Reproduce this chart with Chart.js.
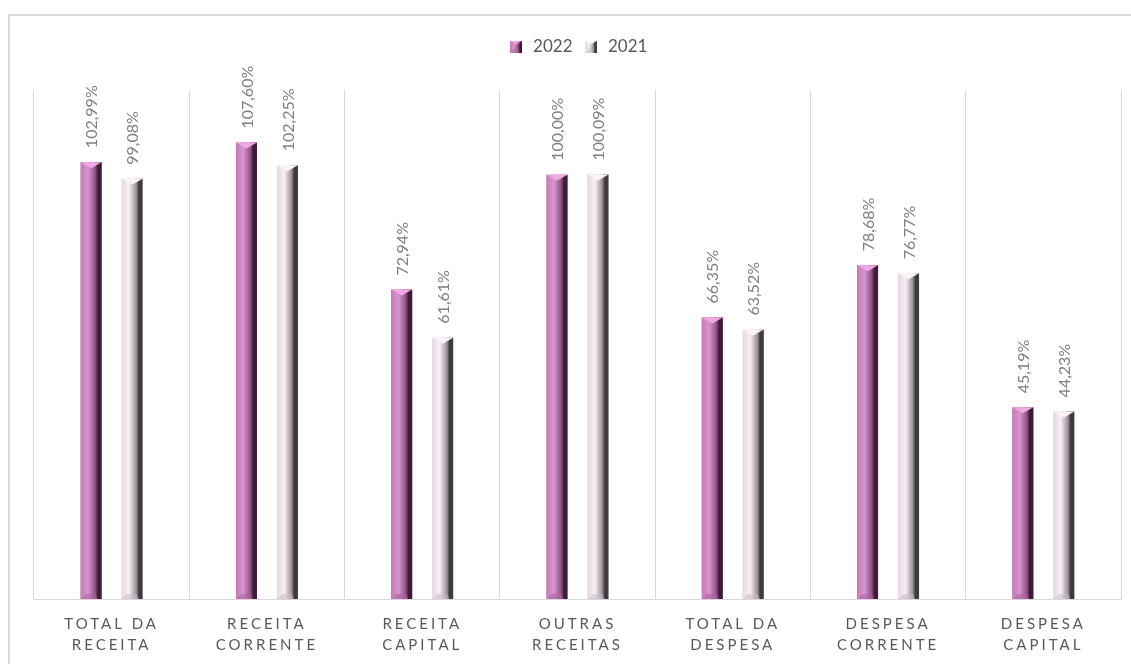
<!DOCTYPE html>
<html lang="pt">
<head>
<meta charset="utf-8">
<title>Execução orçamental 2022 / 2021</title>
<script src="https://cdn.jsdelivr.net/npm/chart.js@4.4.1/dist/chart.umd.min.js"></script>
<style>
  html, body { margin: 0; padding: 0; background: #fff; overflow: hidden; }
  #frame {
    position: absolute; left: 8px; top: 14px;
    width: 1200px; height: 700px;
    border: 2px solid #d9d9d9;
  }
  #wrap { position: absolute; left: 0; top: 0; width: 1131px; height: 664px; }
</style>
</head>
<body>
<div id="frame"></div>
<div id="wrap"><canvas id="chart" width="1131" height="664"></canvas></div>
<script>
// Categories (two-line labels) and execution rates in %
const categories = [
  ['TOTAL DA', 'RECEITA'],
  ['RECEITA', 'CORRENTE'],
  ['RECEITA', 'CAPITAL'],
  ['OUTRAS', 'RECEITAS'],
  ['TOTAL DA', 'DESPESA'],
  ['DESPESA', 'CORRENTE'],
  ['DESPESA', 'CAPITAL']
];
const values2022 = [102.99, 107.60, 72.94, 100.00, 66.35, 78.68, 45.19];
const values2021 = [99.08, 102.25, 61.61, 100.09, 63.52, 76.77, 44.23];

// Shading for the prism-style columns
const PALETTE = {
  '2022': { left: '#c47cb6', mid: '#d995cd', right: '#8f4f85', edge: '#3c1c37', cap: '#efa8e4', foot: '#a8609c' },
  '2021': { left: '#e6d6e2', mid: '#f7f0f5', right: '#9a9098', edge: '#3f3a3e', cap: '#fbf3f9', foot: '#c9bcc6' }
};

function bodyGradient(ctx, left, right, p) {
  const g = ctx.createLinearGradient(left, 0, right, 0);
  g.addColorStop(0, p.left);
  g.addColorStop(0.35, p.mid);
  g.addColorStop(0.7, p.right);
  g.addColorStop(0.82, p.edge);
  g.addColorStop(1, p.edge);
  return g;
}

// Paint one column: body, pointed top facet, bottom bevel
function drawPrism(ctx, x, top, bottom, w, p) {
  const l = x - w / 2, r = x + w / 2;
  const cap = Math.min(6, (bottom - top) / 3);
  ctx.fillStyle = bodyGradient(ctx, l, r, p);
  ctx.fillRect(l, top, w, bottom - top);
  ctx.beginPath();
  ctx.moveTo(l, top);
  ctx.lineTo(r, top);
  ctx.lineTo(x, top + cap);
  ctx.closePath();
  ctx.fillStyle = p.cap;
  ctx.fill();
  ctx.beginPath();
  ctx.moveTo(l + 1, bottom);
  ctx.lineTo(r - 4, bottom);
  ctx.lineTo(r - 6, bottom - 5);
  ctx.lineTo(l + 5, bottom - 5);
  ctx.closePath();
  ctx.globalAlpha = 0.55;
  ctx.fillStyle = p.foot;
  ctx.fill();
  ctx.globalAlpha = 1;
}

// Small legend icons in the same style
function makeIcon(p) {
  const c = document.createElement('canvas');
  c.width = 12; c.height = 12;
  const cx = c.getContext('2d');
  drawPrism(cx, 6, 0, 12, 12, p);
  return c;
}
const icons = [makeIcon(PALETTE['2022']), makeIcon(PALETTE['2021'])];

const prismBars = {
  id: 'prismBars',
  beforeInit(chart) {
    // leave some room between the legend and the plot
    const fit = chart.legend.fit;
    chart.legend.fit = function () {
      fit.call(chart.legend);
      this.height += 25;
    };
  },
  afterDatasetsDraw(chart) {
    const ctx = chart.ctx;
    ctx.save();
    chart.data.datasets.forEach((ds, i) => {
      const meta = chart.getDatasetMeta(i);
      const p = PALETTE[ds.label];
      meta.data.forEach((bar, j) => {
        const { x, y, width, base } = bar.getProps(['x', 'y', 'width', 'base'], true);
        drawPrism(ctx, x, y, base, width, p);

        // rotated value label above the column
        const txt = ds.data[j].toFixed(2).replace('.', ',') + '%';
        ctx.save();
        ctx.translate(x + 1, y - 14);
        ctx.rotate(-Math.PI / 2);
        ctx.font = '16px Lato, sans-serif';
        ctx.fillStyle = '#7f7f7f';
        ctx.textAlign = 'left';
        ctx.textBaseline = 'middle';
        ctx.fillText(txt, 0, 0);
        ctx.restore();
      });
    });
    ctx.restore();
    // category labels (drawn in the next layer) are letter-spaced
    ctx.letterSpacing = '3px';
  },
  afterDraw(chart) {
    chart.ctx.letterSpacing = '0px';
  }
};

new Chart(document.getElementById('chart'), {
  type: 'bar',
  data: {
    labels: categories,
    datasets: [
      { label: '2022', data: values2022, backgroundColor: '#b56aa5' },
      { label: '2021', data: values2021, backgroundColor: '#e8dce5' }
    ]
  },
  plugins: [prismBars],
  options: {
    responsive: false,
    animation: false,
    devicePixelRatio: 1,
    layout: { padding: { left: 34, right: 10, top: 28, bottom: 0 } },
    datasets: {
      bar: { categoryPercentage: 0.528, barPercentage: 0.512 }
    },
    plugins: {
      tooltip: { enabled: false },
      legend: {
        position: 'top',
        labels: {
          usePointStyle: true,
          padding: 10,
          color: '#595959',
          font: { family: 'Lato, sans-serif', size: 17 },
          generateLabels: (chart) => chart.data.datasets.map((ds, i) => ({
            text: ds.label,
            pointStyle: icons[i],
            fillStyle: ds.backgroundColor,
            strokeStyle: 'transparent',
            lineWidth: 0,
            fontColor: '#595959',
            hidden: !chart.isDatasetVisible(i),
            datasetIndex: i
          }))
        }
      }
    },
    scales: {
      x: {
        afterFit: (scale) => { scale.height = 65; },
        grid: { color: '#d9d9d9', drawTicks: false, offset: true },
        border: { color: '#d9d9d9' },
        ticks: {
          z: 1,
          padding: 15,
          maxRotation: 0,
          autoSkip: false,
          color: '#595959',
          font: { family: 'Lato, sans-serif', size: 15, lineHeight: 1.4 }
        }
      },
      y: {
        display: false,
        min: 0,
        max: 120
      }
    }
  }
});
</script>
</body>
</html>
